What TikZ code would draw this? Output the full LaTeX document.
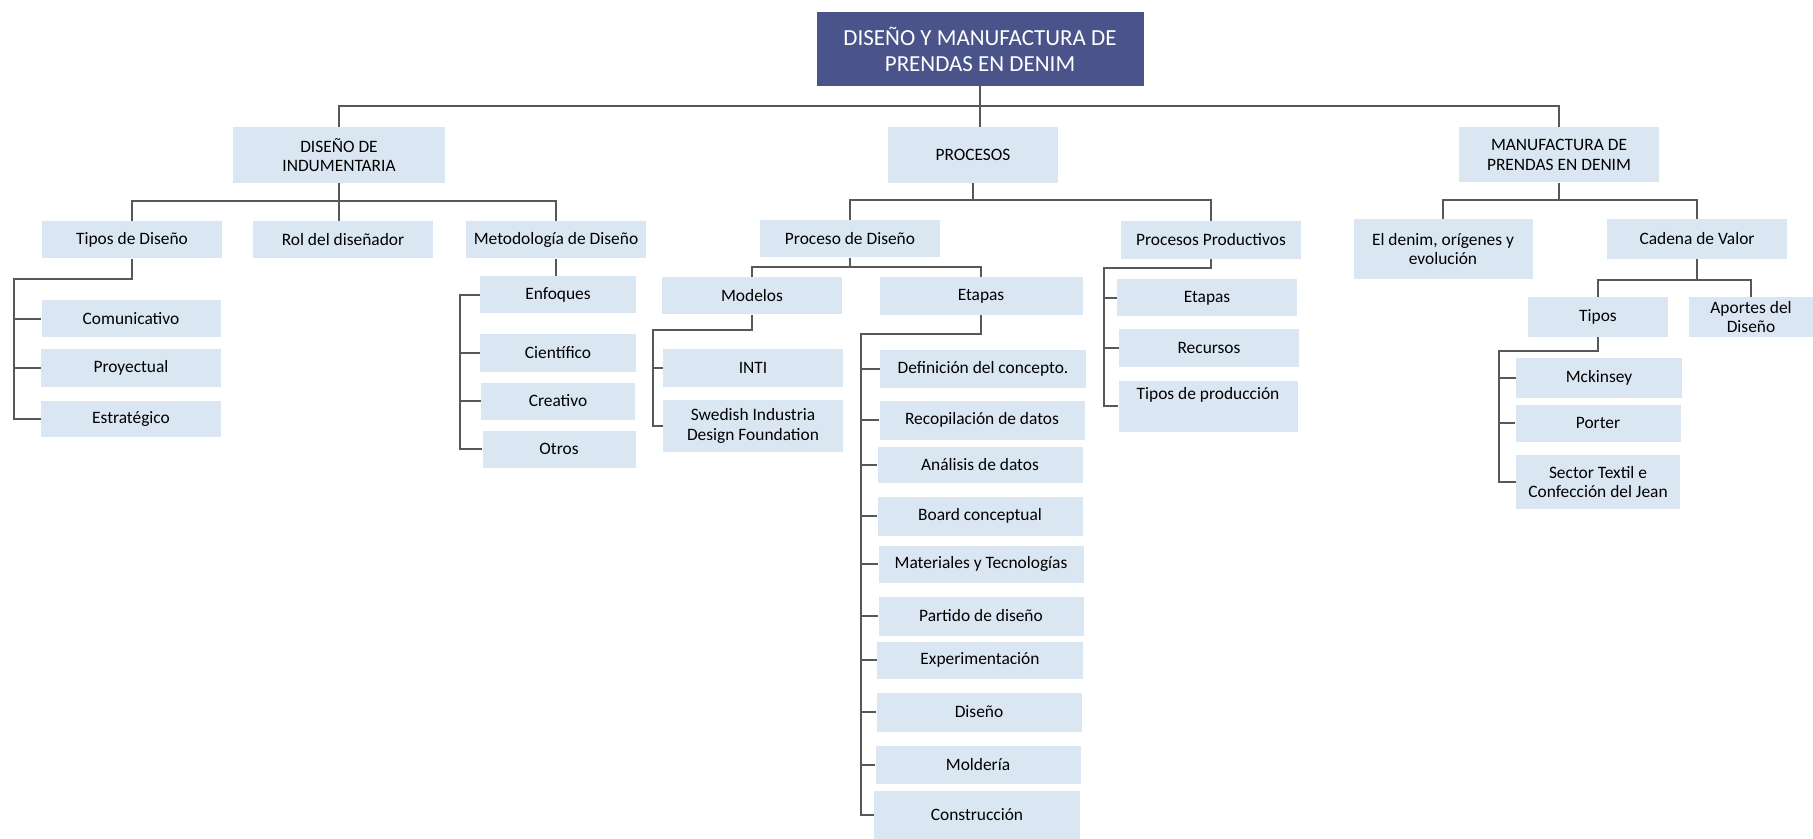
\documentclass[tikz,border=0pt]{standalone}
\usepackage{fontspec}
\setmainfont{Carlito}
\usetikzlibrary{positioning}
\usetikzlibrary{calc}

\definecolor{boxblue}{RGB}{218,231,243}
\definecolor{titleblue}{RGB}{74,84,138}
\definecolor{linegray}{RGB}{88,88,88}

\begin{document}
\begin{tikzpicture}[x=0.5pt,y=-0.5pt,
        box/.style={fill=boxblue, inner sep=0pt, align=center,
            font=\fontsize{8.7}{9.6}\selectfont},
        headbox/.style={fill=titleblue, text=white, inner sep=0pt, align=center,
            font=\fontsize{11.5}{13}\selectfont},
        wh/.style 2 args={minimum width=#1*0.5pt, minimum height=#2*0.5pt},
        link/.style={draw=linegray, line width=1.3pt}]
        \useasboundingbox (0,0) rectangle (1813,839);

        \node[headbox, wh={327}{74}] (title) at (980,49) {DISEÑO Y MANUFACTURA DE\\PRENDAS EN DENIM};

        \node[box, wh={212}{56}] (disind) at (339,155) {DISEÑO DE\\INDUMENTARIA};
        \node[box, wh={170}{56}] (procesos) at (973,155) {PROCESOS};
        \node[box, wh={200}{55}] (manuf) at (1559,155) {MANUFACTURA DE\\PRENDAS EN DENIM};

        \node[box, wh={180}{37}] (tiposd) at (132,240) {Tipos de Diseño};
        \node[box, wh={180}{37}] (rol) at (343,240) {Rol del diseñador};
        \node[box, wh={180}{37}] (metod) at (556,240) {Metodología de Diseño};

        \node[box, wh={179}{37}] (comun) at (131,319) {Comunicativo};
        \node[box, wh={180}{38}] (proyec) at (131,368) {Proyectual};
        \node[box, wh={180}{36}] (estrat) at (131,419) {Estratégico};

        \node[box, wh={156}{37}] (enfoq) at (558,295) {Enfoques};
        \node[box, wh={156}{37}] (cientif) at (558,353) {Científico};
        \node[box, wh={154}{37}] (creativo) at (558,401) {Creativo};
        \node[box, wh={153}{37}] (otros) at (559,449) {Otros};

        \node[box, wh={180}{37}] (procdis) at (850,239) {Proceso de Diseño};
        \node[box, wh={180}{38}] (procprod) at (1211,240) {Procesos Productivos};

        \node[box, wh={180}{37}] (modelos) at (752,296) {Modelos};
        \node[box, wh={203}{38}] (etapas) at (981,296) {Etapas};
        \node[box, wh={180}{37}] (inti) at (753,368) {INTI};
        \node[box, wh={180}{52}] (swedish) at (753,426) {Swedish Industria\\Design Foundation};

        \node[box, wh={206}{38}] (def) at (983,369) {Definición del concepto.};
        \node[box, wh={205}{39}] (recop) at (982,420) {Recopilación de datos};
        \node[box, wh={205}{36}] (analisis) at (980,465) {Análisis de datos};
        \node[box, wh={205}{39}] (board) at (980,516) {Board conceptual};
        \node[box, wh={205}{37}] (mater) at (981,564) {Materiales y Tecnologías};
        \node[box, wh={205}{39}] (partido) at (981,616) {Partido de diseño};
        \node[box, wh={206}{37}] (exper) at (980,660) {Experimentación};
        \node[box, wh={205}{39}] (diseno) at (979,712) {Diseño};
        \node[box, wh={205}{38}] (molde) at (978,765) {Moldería};
        \node[box, wh={206}{48}] (constr) at (977,815) {Construcción};

        \node[box, wh={180}{37}] (ppetapas) at (1207,298) {Etapas};
        \node[box, wh={180}{37}] (recursos) at (1209,348) {Recursos};
        \node[box, wh={179}{51}] (tiposprod) at (1208,406) {Tipos de producción\\ \strut};

        \node[box, wh={179}{60}] (denim) at (1443,249) {El denim, orígenes y\\evolución};
        \node[box, wh={180}{40}] (cadena) at (1697,239) {Cadena de Valor};
        \node[box, wh={140}{40}] (tipos) at (1598,317) {Tipos};
        \node[box, wh={125}{40}] (aportes) at (1751,317) {Aportes del\\Diseño};
        \node[box, wh={166}{39}] (mck) at (1599,378) {Mckinsey};
        \node[box, wh={165}{37}] (porter) at (1598,423) {Porter};
        \node[box, wh={164}{54}] (sector) at (1598,482) {Sector Textil e\\Confección del Jean};

        \coordinate (topbus) at (980,106);
        \coordinate (dibus) at (339,201);
        \coordinate (prbus) at (973,200);
        \coordinate (mfbus) at (1559,200);
        \coordinate (pdbus) at (850,267);
        \coordinate (cvbus) at (1697,280);
        \coordinate (tdk) at (14,279);
        \coordinate (enk) at (460,295);
        \coordinate (mok) at (653,330);
        \coordinate (etk) at (861,334);
        \coordinate (ppk) at (1104,268);
        \coordinate (tik) at (1499,351);

        \draw[link] (title.south) -- (topbus);
        \draw[link] (disind.north) |- (topbus) -| (manuf.north);
        \draw[link] (topbus) -- (topbus |- procesos.north);

        \draw[link] (disind.south) -- (dibus) -- (dibus |- rol.north);
        \draw[link] (tiposd.north) |- (dibus) -| (metod.north);
        \draw[link] (procesos.south) -- (prbus);
        \draw[link] (procdis.north) |- (prbus) -| (procprod.north);
        \draw[link] (manuf.south) -- (mfbus);
        \draw[link] (denim.north) |- (mfbus) -| (cadena.north);
        \draw[link] (procdis.south) -- (pdbus);
        \draw[link] (modelos.north) |- (pdbus) -| (etapas.north);
        \draw[link] (cadena.south) -- (cvbus);
        \draw[link] (tipos.north) |- (cvbus) -| (aportes.north);

        \draw[link] (tiposd.south) |- (tdk) |- (estrat.west);
        \draw[link] (tdk) |- (comun.west);
        \draw[link] (tdk) |- (proyec.west);

        \draw[link] (metod.south) -- (metod.south |- enfoq.north);
        \draw[link] (enfoq.west) -- (enk) |- (otros.west);
        \draw[link] (enk) |- (cientif.west);
        \draw[link] (enk) |- (creativo.west);

        \draw[link] (modelos.south) |- (mok) |- (swedish.west);
        \draw[link] (mok) |- (inti.west);

        \draw[link] (etapas.south) |- (etk) |- (constr.west);
        \foreach \n in {def,recop,analisis,board,mater,partido,exper,diseno,molde}
            \draw[link] (etk) |- (\n.west);

        \draw[link] (procprod.south) |- (ppk) |- (tiposprod.west);
        \draw[link] (ppk) |- (ppetapas.west);
        \draw[link] (ppk) |- (recursos.west);

        \draw[link] (tipos.south) |- (tik) |- (sector.west);
        \draw[link] (tik) |- (mck.west);
        \draw[link] (tik) |- (porter.west);
\end{tikzpicture}
\end{document}
